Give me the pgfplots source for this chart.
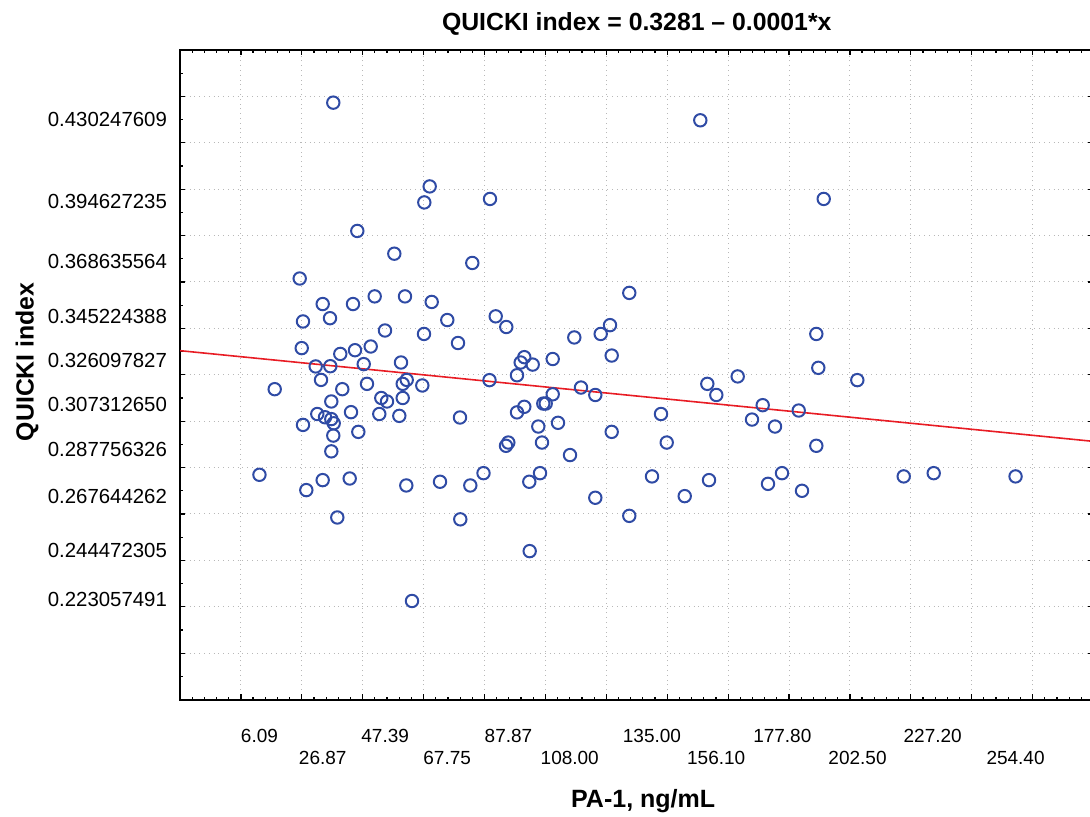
\documentclass[border=0pt]{standalone}
\usepackage{pgfplots}
\pgfplotsset{compat=1.18}
\usepackage{fontspec}
\setmainfont{Liberation Sans}
\definecolor{ptblue}{RGB}{47,75,165}
\definecolor{fitred}{RGB}{232,28,36}

\pgfplotstableread{
x y
30.34 0.4373
38.23 0.3820
50.38 0.3722
60.23 0.3943
62.00 0.4012
75.99 0.3682
81.81 0.3958
150.87 0.4297
191.40 0.3958
19.31 0.3615
26.86 0.3505
36.81 0.3505
43.94 0.3538
53.89 0.3538
62.66 0.3514
20.39 0.3430
29.26 0.3444
67.78 0.3436
47.32 0.3391
60.13 0.3376
71.30 0.3337
19.97 0.3315
32.64 0.3290
37.47 0.3306
42.63 0.3322
52.58 0.3253
24.56 0.3236
29.36 0.3237
40.33 0.3246
26.31 0.3178
54.45 0.3178
53.14 0.3161
59.57 0.3154
81.64 0.3177
11.10 0.3138
33.30 0.3138
41.41 0.3161
29.69 0.3085
46.11 0.3100
47.98 0.3085
53.14 0.3100
25.09 0.3031
27.62 0.3017
29.69 0.3009
30.48 0.2991
36.16 0.3039
45.45 0.3031
52.02 0.3023
71.95 0.3016
20.39 0.2984
38.56 0.2954
30.34 0.2938
29.69 0.2870
6.09 0.2769
26.86 0.2746
35.73 0.2753
21.48 0.2703
54.32 0.2723
65.39 0.2739
75.34 0.2723
79.67 0.2776
31.66 0.2585
56.19 0.2225
72.05 0.2577
83.68 0.3452
87.16 0.3406
93.07 0.3276
91.89 0.3253
95.83 0.3244
90.67 0.3198
102.40 0.3268
109.49 0.3361
118.16 0.3376
121.22 0.3414
121.77 0.3283
127.55 0.3553
102.40 0.3116
111.69 0.3145
116.39 0.3113
93.07 0.3062
90.67 0.3038
99.31 0.3076
100.10 0.3076
97.67 0.2977
104.14 0.2993
87.06 0.2894
87.82 0.2908
98.88 0.2908
108.08 0.2854
121.77 0.2954
137.96 0.3031
139.84 0.2908
153.17 0.3161
156.13 0.3113
163.15 0.3193
171.36 0.3069
167.85 0.3007
175.40 0.2977
94.71 0.2739
98.23 0.2776
135.01 0.2762
153.73 0.2746
173.10 0.2730
177.70 0.2776
116.39 0.2670
127.55 0.2592
145.75 0.2677
94.84 0.2440
188.97 0.3376
189.62 0.3230
202.43 0.3177
183.19 0.3046
188.97 0.2894
184.27 0.2700
217.67 0.2762
227.52 0.2776
254.40 0.2762
}\quicki

\begin{document}
\begin{tikzpicture}
\begin{axis}[
    at={(90pt,58.7pt)}, anchor=south west,
    scale only axis, width=456.75pt, height=324.8pt,
    xmin=-20, xmax=280,
    ymin=0.18, ymax=0.46,
    xtick={-20,0,20,40,60,80,100,120,140,160,180,200,220,240,260,280},
    ytick={0.18,0.20,0.22,0.24,0.26,0.28,0.30,0.32,0.34,0.36,0.38,0.40,0.42,0.44,0.46},
    xticklabels={}, yticklabels={},
    minor x tick num=4, minor y tick num=1,
    tick align=inside, tick pos=both,
    major tick length=2.6pt, minor tick length=1.4pt,
    every tick/.style={black, line width=0.6pt},
    grid=major,
    major grid style={black!28, dotted, line width=0.5pt},
    axis line style={line width=1pt},
    xticklabel style={font=\fontsize{9.5}{11}\selectfont},
    yticklabel style={font=\fontsize{10.2}{12}\selectfont},
    extra x ticks={6.09,26.87,47.39,67.75,87.87,108.00,135.00,156.10,177.80,202.50,227.20,254.40},
    extra x tick labels={{\strut 6.09},{\strut\\26.87},{\strut 47.39},{\strut\\67.75},{\strut 87.87},{\strut\\108.00},
        {\strut 135.00},{\strut\\156.10},{\strut 177.80},{\strut\\202.50},{\strut 227.20},{\strut\\254.40}},
    extra x tick style={grid=none, major tick length=0pt,
        xticklabel style={align=center, anchor=north, yshift=-10pt}},
    extra y ticks={0.430247609,0.394627235,0.368635564,0.345224388,0.326097827,
        0.307312650,0.287756326,0.267644262,0.244472305,0.223057491},
    extra y tick labels={0.430247609,0.394627235,0.368635564,0.345224388,0.326097827,
        0.307312650,0.287756326,0.267644262,0.244472305,0.223057491},
    extra y tick style={grid=none, major tick length=0pt,
        yticklabel style={xshift=-3pt}},
    title={QUICKI index = 0.3281 – 0.0001*x},
    title style={font=\bfseries\fontsize{12.4}{14}\selectfont, at={(0.5,1)}, anchor=base, yshift=3.5pt},
    xlabel={PA-1, ng/mL},
    xlabel style={font=\bfseries\fontsize{12.5}{14}\selectfont, at={(0.507,0)}, anchor=center, yshift=-50.5pt},
    ylabel={QUICKI index},
    ylabel style={font=\bfseries\fontsize{12.4}{14}\selectfont, at={(0,0.52)}, anchor=center, yshift=76.5pt},
]
\addplot[only marks, mark=o, mark size=3.1pt,
    mark options={draw=ptblue, line width=1pt}] table[x=x, y=y] {\quicki};
\addplot[fitred, line width=0.8pt] coordinates {(-20,0.3304) (280,0.2913)};
\end{axis}
\pgfresetboundingbox
\useasboundingbox (0,0) rectangle (545pt,408.5pt);
\end{tikzpicture}
\end{document}
